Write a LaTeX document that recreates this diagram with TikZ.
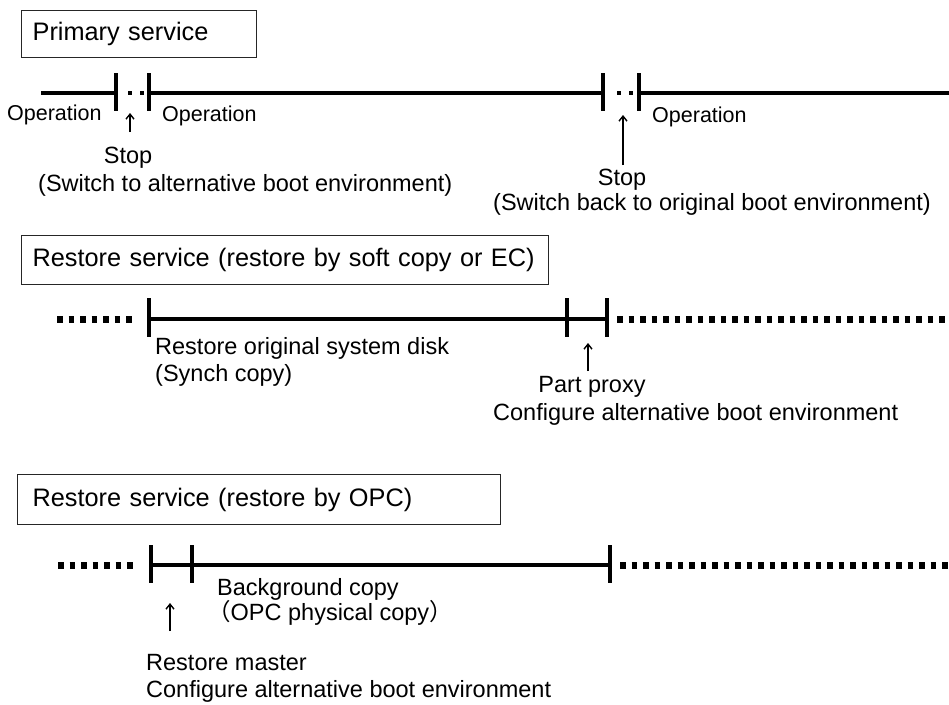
\documentclass[tikz,border=0pt]{standalone}
\usepackage{fontspec}
\setmainfont{Liberation Sans}
\newfontfamily\cjkfont{Noto Sans CJK JP}
\usetikzlibrary{arrows.meta}
\begin{document}
\begin{tikzpicture}[x=1pt,y=-1pt,
  titlebox/.style={draw=black!85, line width=1.3pt, anchor=north west, inner ysep=0pt, align=left, font=\fontsize{25.3}{30}\selectfont},
  lbl/.style={inner sep=0pt, font=\fontsize{23.5}{28}\selectfont},
  oplbl/.style={inner sep=0pt, font=\fontsize{21.5}{26}\selectfont},
  tl/.style={line width=4.5pt},
  tmark/.style={line width=4.5pt},
  dotsA/.style={line width=4pt, dash pattern=on 4pt off 8pt},
  dotsB/.style={line width=7pt, dash pattern=on 5.5pt off 6pt},
  uparrow/.style={line width=1.4pt, -{Straight Barb[length=5pt,width=8pt]}}
]
\useasboundingbox (0,0) rectangle (949,704);

% title boxes
\node[titlebox, inner xsep=11pt, text width=213pt, minimum height=47pt] (t1) at (21,10) {Primary service};
\node[titlebox, inner xsep=11pt, text width=505pt, minimum height=49pt] (t2) at (21,235) {Restore service (restore by soft copy or EC)};
\node[titlebox, inner xsep=15pt, text width=453pt, minimum height=50pt] (t3) at (17,474) {Restore service (restore by OPC)};

% timeline 1
\coordinate (a0) at (41,93);
\coordinate (a1) at (116,93);
\coordinate (a2) at (149,93);
\coordinate (a3) at (603,93);
\coordinate (a4) at (639,93);
\coordinate (a5) at (949,93);
\draw[tl] (a0) -- (a1);
\draw[tl] (a2) -- (a3);
\draw[tl] (a4) -- (a5);
\draw[dotsA] ([xshift=12pt]a1) -- (a2);
\draw[dotsA] ([xshift=14pt]a3) -- (a4);
\foreach \c in {a1,a2,a3,a4}{\draw[tmark] ([yshift=20pt]\c) -- ([yshift=-18pt]\c);}

% timeline 2
\coordinate (b0) at (57,319);
\coordinate (b1) at (149,319);
\coordinate (b2) at (567,319);
\coordinate (b3) at (607,319);
\coordinate (b4) at (949,319);
\draw[dotsB] (b0) -- ([xshift=-12pt]b1);
\draw[tl] (b1) -- (b3);
\draw[dotsB] ([xshift=10pt]b3) -- (b4);
\foreach \c in {b1,b2,b3}{\draw[tmark] ([yshift=21pt]\c) -- ([yshift=-18pt]\c);}

% timeline 3
\coordinate (c0) at (58,565);
\coordinate (c1) at (151,565);
\coordinate (c2) at (192,565);
\coordinate (c3) at (610,565);
\coordinate (c4) at (949,565);
\draw[dotsB] (c0) -- ([xshift=-13pt]c1);
\draw[tl] (c1) -- (c3);
\draw[dotsB] ([xshift=10pt]c3) -- (c4);
\foreach \c in {c1,c2,c3}{\draw[tmark] ([yshift=20pt]\c) -- ([yshift=-18pt]\c);}

% arrows
\coordinate (s1t) at (130,113); \coordinate (s1b) at (130,132);
\coordinate (s2t) at (623,115); \coordinate (s2b) at (623,165);
\coordinate (ppt) at (588,343); \coordinate (ppb) at (588,371);
\coordinate (rmt) at (170,603); \coordinate (rmb) at (170,631);
\draw[uparrow] (s1b) -- (s1t);
\draw[uparrow] (s2b) -- (s2t);
\draw[uparrow] (ppb) -- (ppt);
\draw[uparrow] (rmb) -- (rmt);

% labels
\node[oplbl, anchor=base west] (op1) at (7,120) {Operation};
\node[oplbl, anchor=base west] (op2) at (162,121) {Operation};
\node[oplbl, anchor=base west] (op3) at (652,122) {Operation};
\node[lbl, anchor=base] (st1) at (128,163) {Stop};
\node[lbl, anchor=base west] (sw1) at (38,191) {(Switch to alternative boot environment)};
\node[lbl, anchor=base] (st2) at (622,185) {Stop};
\node[lbl, anchor=base west] (sw2) at (493,210) {(Switch back to original boot environment)};
\node[lbl, anchor=base west] (ro) at (155,354) {Restore original system disk};
\node[lbl, anchor=base west] (sc) at (155,381) {(Synch copy)};
\node[lbl, anchor=base] (pp) at (592,392) {Part proxy};
\node[lbl, anchor=base west] (ca1) at (493,420) {Configure alternative boot environment};
\node[lbl, anchor=base west] (bg) at (217,595) {Background copy};
\node[lbl, anchor=base west] (opc) at (207,620) {{\cjkfont （}OPC physical copy{\cjkfont ）}};
\node[lbl, anchor=base west] (rm) at (146,670) {Restore master};
\node[lbl, anchor=base west] (ca2) at (146,697) {Configure alternative boot environment};
\end{tikzpicture}
\end{document}
